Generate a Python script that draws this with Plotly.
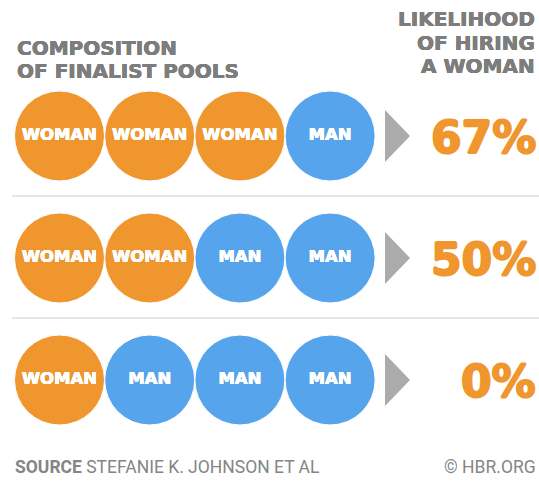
import plotly.graph_objects as go

# Finalist pool compositions (one row per pool) and the resulting hiring likelihood
pools = [
    ["WOMAN", "WOMAN", "WOMAN", "MAN"],
    ["WOMAN", "WOMAN", "MAN", "MAN"],
    ["WOMAN", "MAN", "MAN", "MAN"],
]
likelihood = [67, 50, 0]

left_title = ["COMPOSITION", "OF FINALIST POOLS"]
right_title = ["LIKELIHOOD", "OF HIRING", "A WOMAN"]
source_label = "SOURCE"
source_text = "STEFANIE K. JOHNSON ET AL"
credit_text = "\u00a9 HBR.ORG"

# Layout constants (axes are set up in pixel units)
W, H = 539, 488
COL0, COL_STEP = 59.5, 90.2
ROW0, ROW_STEP = 136, 122
DIAM = 90
ORANGE = "#F0962F"
BLUE = "#56A5EC"
GREY_TXT = "#7d7d7d"
ARROW = "#ABABAB"
RULE = "#DEDEDE"
BOLD_FONT = "DejaVu Sans"


def heavy(color, w):
    """Text shadow that thickens glyph strokes for a heavier look."""
    return ", ".join(f"{dx}px {dy}px 0 {color}" for dx, dy in
                     [(w, 0), (-w, 0), (0, w), (0, -w)])


colors = {"WOMAN": ORANGE, "MAN": BLUE}

fig = go.Figure()

# Circles with labels
xs, ys, labels, fills = [], [], [], []
for r, row in enumerate(pools):
    for c, who in enumerate(row):
        xs.append(COL0 + COL_STEP * c)
        ys.append(ROW0 + ROW_STEP * r)
        labels.append(who)
        fills.append(colors[who])

fig.add_trace(go.Scatter(
    x=xs, y=ys, mode="markers+text", text=labels,
    textposition="middle center",
    textfont=dict(family=BOLD_FONT, size=16.5, color="white", weight="bold",
                  shadow=heavy("white", 0.3)),
    marker=dict(size=DIAM, color=fills, line=dict(color="white", width=1)),
    hoverinfo="skip", showlegend=False,
))

# Grey arrowheads pointing to the likelihood values
ax, ay = [], []
for r in range(len(pools)):
    yc = ROW0 + ROW_STEP * r
    ax += [385, 410, 385, None]
    ay += [yc - 26, yc, yc + 26, None]
fig.add_trace(go.Scatter(
    x=ax, y=ay, mode="lines", fill="toself", fillcolor=ARROW,
    line=dict(width=0, color=ARROW), hoverinfo="skip", showlegend=False,
))

annotations = []
# Likelihood percentages
for r, v in enumerate(likelihood):
    annotations.append(dict(
        x=538, y=ROW0 + ROW_STEP * r + 1, xref="x", yref="y",
        text=f"{v}%", showarrow=False, xanchor="right", yanchor="middle",
        font=dict(family=BOLD_FONT, size=44, color=ORANGE, weight="bold",
                  shadow=heavy(ORANGE, 1)),
    ))

# Separator rules between rows
shapes = []
for r in range(len(pools) - 1):
    yl = ROW0 + ROW_STEP * (r + 0.5) - 1
    shapes.append(dict(type="line", xref="x", yref="y", x0=12, x1=W, y0=yl, y1=yl,
                       line=dict(color=RULE, width=1.5)))

# Column headings
for i, line in enumerate(left_title):
    annotations.append(dict(
        x=15, y=48 + 23 * i, xref="x", yref="y", text=line, showarrow=False,
        xanchor="left", yanchor="middle",
        font=dict(family=BOLD_FONT, size=20, color=GREY_TXT, weight="bold",
                  shadow=heavy(GREY_TXT, 0.2)),
    ))
for i, line in enumerate(right_title):
    annotations.append(dict(
        x=537, y=19 + 23.5 * i, xref="x", yref="y", text=line, showarrow=False,
        xanchor="right", yanchor="middle", align="right",
        font=dict(family=BOLD_FONT, size=20, color=GREY_TXT, weight="bold",
                  shadow=heavy(GREY_TXT, 0.2)),
    ))

# Footer
annotations.append(dict(
    x=13, y=467, xref="x", yref="y",
    text=f"<b>{source_label}</b> {source_text}", showarrow=False,
    xanchor="left", yanchor="middle",
    font=dict(family="Roboto", size=17.5, color="#858585"),
))
annotations.append(dict(
    x=538, y=467, xref="x", yref="y", text=credit_text, showarrow=False,
    xanchor="right", yanchor="middle",
    font=dict(family="Roboto", size=17.5, color="#858585"),
))

fig.update_layout(
    width=W, height=H, margin=dict(l=0, r=0, t=0, b=0),
    paper_bgcolor="white", plot_bgcolor="white",
    xaxis=dict(range=[0, W], visible=False, fixedrange=True),
    yaxis=dict(range=[H, 0], visible=False, fixedrange=True),
    annotations=annotations, shapes=shapes,
)

fig.write_html("out.html", config={"displayModeBar": False})
